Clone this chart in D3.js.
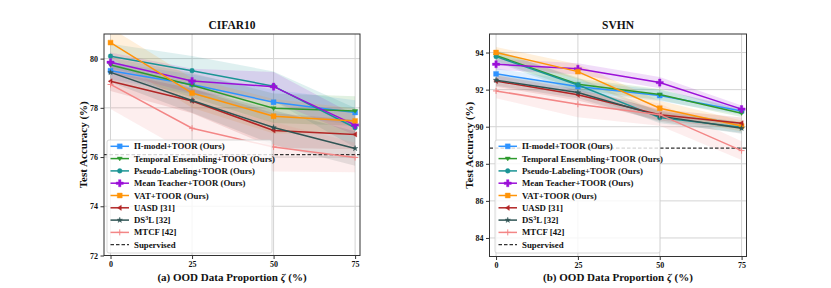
<!DOCTYPE html>
<html>
<head>
<meta charset="utf-8">
<script src="https://cdn.jsdelivr.net/npm/d3@7"></script>
<style>
  body { margin: 0; background: #fff; }
  text { font-family: "Liberation Serif", "Times New Roman", serif; font-weight: bold; fill: #111; }
</style>
</head>
<body>
<svg></svg>
<script>
// ---- data ----
const proportions = [0, 25, 50, 75];
const xTicks = [0, 25, 50, 75];
const methods = ['Π-model+TOOR (Ours)', 'Temporal Ensembling+TOOR (Ours)', 'Pseudo-Labeling+TOOR (Ours)',
  'Mean Teacher+TOOR (Ours)', 'VAT+TOOR (Ours)', 'UASD [31]', 'DS3L [32]', 'MTCF [42]'];
const colors = ['#2e93ff', '#2e9a2e', '#1a9494', '#9b10d8', '#ff9408', '#b22525', '#2f5454', '#f38686'];
const markers = ['square', 'tridown', 'circle', 'cross', 'square', 'trileft', 'star', 'plus'];

// CIFAR10 means / std (%)
const cifarMean = [
  [79.51, 78.95, 78.23, 77.81],
  [79.74, 78.92, 77.98, 77.87],
  [80.10, 79.51, 78.88, 77.19],
  [79.85, 79.09, 78.86, 77.30],
  [80.65, 78.60, 77.66, 77.47],
  [79.08, 78.28, 77.08, 76.92],
  [79.44, 78.30, 77.20, 76.35],
  [78.95, 77.17, 76.41, 75.98]
];
const cifarStd = [
  [0.35, 0.40, 0.50, 0.50],
  [0.30, 0.50, 0.60, 0.60],
  [0.50, 0.60, 0.60, 0.80],
  [0.40, 0.50, 0.60, 0.40],
  [0.60, 0.60, 0.70, 0.50],
  [0.40, 0.50, 0.70, 0.60],
  [0.40, 0.50, 0.70, 0.70],
  [1.00, 1.10, 1.00, 0.60]
];
const cifarSupervised = 76.1;
const cifarYTicks = [72, 74, 76, 78, 80];

// SVHN means / std (%)
const svhnMean = [
  [92.85, 92.17, 91.68, 90.85],
  [93.84, 92.29, 91.74, 90.73],
  [93.78, 92.25, 90.49, 89.97],
  [93.37, 93.12, 92.38, 90.95],
  [94.00, 92.97, 91.00, 90.04],
  [92.46, 91.72, 90.64, 90.19],
  [92.51, 91.84, 90.57, 89.92],
  [91.93, 91.21, 90.65, 88.71]
];
const svhnStd = [
  [0.30, 0.30, 0.30, 0.20],
  [0.30, 0.30, 0.30, 0.20],
  [0.30, 0.40, 0.30, 0.30],
  [0.30, 0.30, 0.30, 0.20],
  [0.30, 0.40, 0.40, 0.30],
  [0.30, 0.30, 0.30, 0.30],
  [0.30, 0.30, 0.30, 0.30],
  [0.40, 0.70, 0.60, 0.50]
];
const svhnSupervised = 88.85;
const svhnYTicks = [84, 86, 88, 90, 92, 94];

const size = {w: 831, h: 288};
const svg = d3.select('svg').attr('width', size.w).attr('height', size.h);

// symbol generators (d3 built-ins plus a few custom ones)
function markerPath(kind, r) {
  if (kind === 'square') return d3.symbol(d3.symbolSquare, 3.6 * r * r)();
  if (kind === 'circle') return d3.symbol(d3.symbolCircle, 2.6 * r * r)();
  if (kind === 'cross') return d3.symbol(d3.symbolCross, 4.2 * r * r)();
  if (kind === 'star') return d3.symbol(d3.symbolStar, 1.4 * r * r)();
  if (kind === 'tridown') return `M${-r},${-r * 0.6}L${r},${-r * 0.6}L0,${r * 0.9}Z`;
  if (kind === 'trileft') return `M${r * 0.6},${-r}L${r * 0.6},${r}L${-r * 0.9},0Z`;
  return `M${-r},0L${r},0M0,${-r}L0,${r}`;
}

function drawPanel(opt) {
  const g = svg.append('g');
  const x = d3.scaleLinear().domain([-2, 76.5]).range([opt.left, opt.right]);
  const y = d3.scaleLinear().domain(opt.yDomain).range([opt.bottom, opt.top]);

  // grid
  g.append('g').selectAll('line.gx').data(xTicks).join('line')
    .attr('x1', d => x(d)).attr('x2', d => x(d))
    .attr('y1', opt.top).attr('y2', opt.bottom)
    .attr('stroke', '#d4d4d4').attr('stroke-width', 1);
  g.append('g').selectAll('line.gy').data(opt.yTicks).join('line')
    .attr('x1', opt.left).attr('x2', opt.right)
    .attr('y1', d => y(d)).attr('y2', d => y(d))
    .attr('stroke', '#d4d4d4').attr('stroke-width', 1);

  const clip = 'clip' + opt.id;
  svg.append('clipPath').attr('id', clip).append('rect')
    .attr('x', opt.left).attr('y', opt.top)
    .attr('width', opt.right - opt.left).attr('height', opt.bottom - opt.top);
  const plotG = g.append('g').attr('clip-path', `url(#${clip})`);

  // bands
  const area = d3.area()
    .x((d, i) => x(proportions[i]))
    .y0(d => y(d[0] - d[1]))
    .y1(d => y(d[0] + d[1]));
  opt.mean.forEach((m, k) => {
    plotG.append('path')
      .datum(m.map((v, i) => [v, opt.std[k][i]]))
      .attr('d', area)
      .attr('fill', colors[k]).attr('fill-opacity', 0.14);
  });

  // supervised baseline
  plotG.append('line')
    .attr('x1', opt.left).attr('x2', opt.right)
    .attr('y1', y(opt.supervised)).attr('y2', y(opt.supervised))
    .attr('stroke', '#333').attr('stroke-width', 1.2).attr('stroke-dasharray', '3.5,2');

  // lines and markers
  const line = d3.line().x((d, i) => x(proportions[i])).y(d => y(d));
  opt.mean.forEach((m, k) => {
    plotG.append('path').datum(m).attr('d', line)
      .attr('fill', 'none').attr('stroke', colors[k]).attr('stroke-width', 1.5);
    plotG.selectAll(null).data(m).join('path')
      .attr('transform', (d, i) => `translate(${x(proportions[i])},${y(d)})`)
      .attr('d', markerPath(markers[k], k === 7 ? 3 : 2.6))
      .attr('fill', colors[k]).attr('stroke', colors[k]).attr('stroke-width', k === 7 ? 1 : 0.4);
  });

  // spines
  g.append('rect')
    .attr('x', opt.left).attr('y', opt.top)
    .attr('width', opt.right - opt.left).attr('height', opt.bottom - opt.top)
    .attr('fill', 'none').attr('stroke', '#333').attr('stroke-width', 1);

  // axes
  const xAxis = g.append('g').attr('transform', `translate(0,${opt.bottom})`)
    .call(d3.axisBottom(x).tickValues(xTicks).tickSize(3.5).tickPadding(2));
  const yAxis = g.append('g').attr('transform', `translate(${opt.left},0)`)
    .call(d3.axisLeft(y).tickValues(opt.yTicks).tickSize(3.5).tickPadding(2.5));
  [xAxis, yAxis].forEach(a => {
    a.select('.domain').remove();
    a.selectAll('line').attr('stroke', '#333');
    a.selectAll('text').style('font-size', '8px').style('font-family', '"Liberation Serif", serif')
      .style('font-weight', 'bold').attr('fill', '#111');
  });

  // title and axis labels
  const cx = (opt.left + opt.right) / 2;
  g.append('text').attr('x', cx).attr('y', 29).attr('text-anchor', 'middle')
    .style('font-size', '11.5px').text(opt.title);
  const xl = g.append('text').attr('x', cx).attr('y', 281).attr('text-anchor', 'middle')
    .style('font-size', '11px');
  xl.append('tspan').text(opt.xPrefix + ' OOD Data Proportion ');
  xl.append('tspan').style('font-style', 'italic').text('ζ');
  xl.append('tspan').text(' (%)');
  g.append('text')
    .attr('transform', `translate(${opt.left - 17},${(opt.top + opt.bottom) / 2}) rotate(-90)`)
    .attr('text-anchor', 'middle').style('font-size', '11px').text('Test Accuracy (%)');

  // legend
  const lg = g.append('g').attr('transform', `translate(${opt.legendX},140)`);
  lg.append('rect').attr('width', 165).attr('height', 113).attr('rx', 2)
    .attr('fill', '#fff').attr('fill-opacity', 0.8).attr('stroke', '#cfcfcf').attr('stroke-width', 0.8);
  const entries = methods.concat(['Supervised']);
  entries.forEach((name, k) => {
    const ey = 6.3 + k * 12.3;
    const row = lg.append('g').attr('transform', `translate(0,${ey})`);
    if (k < methods.length) {
      row.append('line').attr('x1', 3.5).attr('x2', 22).attr('y1', 0).attr('y2', 0)
        .attr('stroke', colors[k]).attr('stroke-width', 1.5);
      row.append('path').attr('transform', 'translate(12.75,0)')
        .attr('d', markerPath(markers[k], k === 7 ? 3 : 2.6))
        .attr('fill', colors[k]).attr('stroke', colors[k]).attr('stroke-width', k === 7 ? 1 : 0.4);
    } else {
      row.append('line').attr('x1', 3.5).attr('x2', 22).attr('y1', 0).attr('y2', 0)
        .attr('stroke', '#333').attr('stroke-width', 1.2).attr('stroke-dasharray', '3.5,2');
    }
    const t = row.append('text').attr('x', 27).attr('y', 3).style('font-size', '8.8px');
    if (name === 'DS3L [32]') {
      t.append('tspan').text('DS');
      t.append('tspan').attr('dy', -3).style('font-size', '6px').text('3');
      t.append('tspan').attr('dy', 3).text('L [32]');
    } else {
      t.text(name);
    }
  });
}

drawPanel({
  id: 'a', title: 'CIFAR10', xPrefix: '(a)',
  left: 104, right: 360, top: 34, bottom: 255.5,
  yDomain: [72, 81], yTicks: cifarYTicks,
  mean: cifarMean, std: cifarStd, supervised: cifarSupervised, legendX: 107
});
drawPanel({
  id: 'b', title: 'SVHN', xPrefix: '(b)',
  left: 489.5, right: 746.5, top: 34, bottom: 256.5,
  yDomain: [83, 95], yTicks: svhnYTicks,
  mean: svhnMean, std: svhnStd, supervised: svhnSupervised, legendX: 495
});
</script>
</body>
</html>
